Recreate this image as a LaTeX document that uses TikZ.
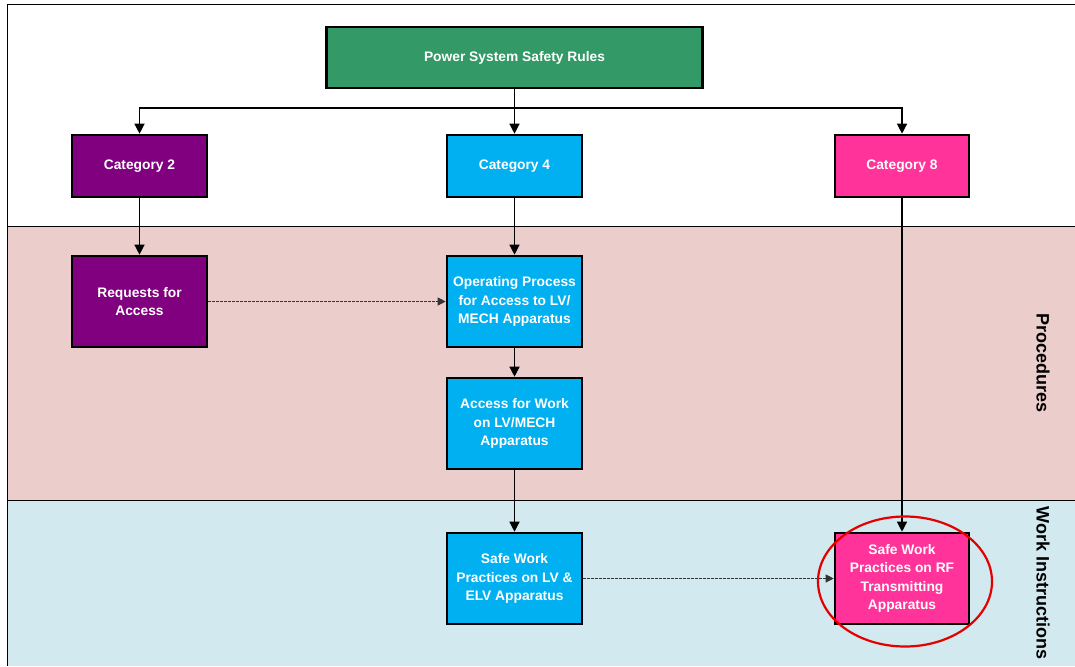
\documentclass[tikz,border=0pt]{standalone}
\usepackage{fontspec}
\setmainfont{Liberation Sans}
\usetikzlibrary{arrows.meta,positioning}
\definecolor{bandpink}{RGB}{235,205,203}
\definecolor{bandblue}{RGB}{210,233,239}
\definecolor{cgreen}{RGB}{51,153,102}
\definecolor{cpurple}{RGB}{128,0,128}
\definecolor{cblue}{RGB}{0,176,240}
\definecolor{cpink}{RGB}{255,51,153}
\tikzset{
  box/.style={draw=black, line width=2.6pt, text=white, align=center,
    font=\fontsize{13.8}{18.5}\selectfont\bfseries, inner sep=0pt},
  conn/.style={line width=1.3pt, -{Triangle[length=10pt,width=10pt]}},
  dconn/.style={line width=0.9pt, dash pattern=on 2.5pt off 1.5pt, draw=black!80, -{Triangle[length=8pt,width=8pt]}},
  sidelabel/.style={font=\fontsize{18}{20}\selectfont\bfseries, rotate=-90}
}
\begin{document}
\begin{tikzpicture}[x=1pt,y=-1pt]
\useasboundingbox (0,0) rectangle (1075,666);
% bands
\fill[white] (7,5) rectangle (1075,226);
\fill[bandpink] (7,226) rectangle (1075,500);
\fill[bandblue] (7,500) rectangle (1075,666);
\draw[line width=1pt] (7,666) -- (7,5) -- (1075,5);
\draw[line width=1pt] (7,226) -- (1075,226);
\draw[line width=1pt] (7,500) -- (1075,500);
% side labels
\node[sidelabel] (proc) at (1043,363) {Procedures};
\node[sidelabel] (wi) at (1043,583) {Work Instructions};
% boxes
\node[box, fill=cgreen, minimum width=376pt, minimum height=61pt] (psr) at (514.5,57.5) {Power System Safety Rules};
\node[box, fill=cpurple, minimum width=135pt, minimum height=62pt] (c2) at (139.5,166) {Category 2};
\node[box, fill=cblue, minimum width=135pt, minimum height=62pt] (c4) at (514.5,166) {Category 4};
\node[box, fill=cpink, minimum width=134pt, minimum height=62pt] (c8) at (902,166) {Category 8};
\node[box, fill=cpurple, minimum width=135pt, minimum height=91pt] (req) at (139.5,301.5) {Requests for\\Access};
\node[box, fill=cblue, minimum width=135pt, minimum height=91pt] (op) at (514.5,301.5) {Operating Process\\for Access to LV/\\MECH Apparatus};
\node[box, fill=cblue, minimum width=135pt, minimum height=91pt] (acc) at (514.5,423.5) {Access for Work\\on LV/MECH\\Apparatus};
\node[box, fill=cblue, minimum width=135pt, minimum height=91pt] (swlv) at (514.5,578.5) {Safe Work\\Practices on LV \&\\ELV Apparatus};
\node[box, fill=cpink, minimum width=134pt, minimum height=91pt] (swrf) at (902,578.5) {Safe Work\\Practices on RF\\Transmitting\\Apparatus};
% connectors
\coordinate (j) at (514.5,108);
\draw[line width=1.3pt] (psr.south) -- (j);
\draw[conn] (j) -| (c2.north);
\draw[conn] (j) -- (c4.north);
\draw[conn] (j) -| (c8.north);
\draw[conn] (c2) -- (req);
\draw[conn] (c4) -- (op);
\draw[conn] (op) -- (acc);
\draw[conn] (acc) -- (swlv);
\draw[conn] (c8) -- (swrf);
\draw[dconn] (req) -- (op);
\draw[dconn] (swlv) -- (swrf);
% highlight
\draw[red!90!black, line width=2.2pt] (swrf.center) ++(3,3) ellipse [x radius=87pt, y radius=65pt];
\end{tikzpicture}
\end{document}
